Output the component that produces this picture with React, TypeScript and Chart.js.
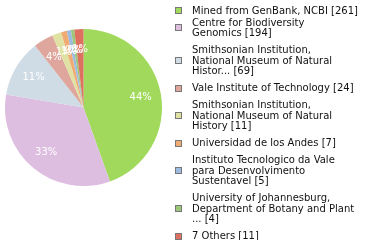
import React, { useEffect, useRef } from "react";
import { Chart, registerables } from "chart.js";

Chart.register(...registerables);

const categories: string[] = [
  "Mined from GenBank, NCBI [261]",
  "Centre for Biodiversity\nGenomics [194]",
  "Smithsonian Institution,\nNational Museum of Natural\nHistor... [69]",
  "Vale Institute of Technology [24]",
  "Smithsonian Institution,\nNational Museum of Natural\nHistory [11]",
  "Universidad de los Andes [7]",
  "Instituto Tecnologico da Vale\npara Desenvolvimento\nSustentavel [5]",
  "University of Johannesburg,\nDepartment of Botany and Plant\n... [4]",
  "7 Others [11]",
];

const counts: number[] = [261, 194, 69, 24, 11, 7, 5, 4, 11];

const colors: string[] = [
  "#a0d95b",
  "#ddbde0",
  "#cfdbe5",
  "#dfa69d",
  "#dfe2a2",
  "#f0ab72",
  "#9dbbe0",
  "#9cc67a",
  "#dd705f",
];

const FONT = '10px "DejaVu Sans"';

const pieLabelPlugin = {
  id: "pieLabels",
  afterDatasetsDraw(chart: any) {
    const ctx = chart.ctx;
    const meta = chart.getDatasetMeta(0);
    const data = chart.data.datasets[0].data as number[];
    const total = data.reduce((a, b) => a + b, 0);
    ctx.save();
    ctx.font = FONT;
    ctx.fillStyle = "#ffffff";
    ctx.textAlign = "center";
    ctx.textBaseline = "middle";
    meta.data.forEach((arc: any, i: number) => {
      const p = arc.getProps(["x", "y", "startAngle", "endAngle", "outerRadius"], true);
      const mid = (p.startAngle + p.endAngle) / 2;
      const r = p.outerRadius * 0.74;
      const pct = Math.floor((data[i] / total) * 100);
      ctx.fillText(pct + "%", p.x + Math.cos(mid) * r, p.y + Math.sin(mid) * r);
    });
    ctx.restore();
  },
};

const legendPlugin = {
  id: "sideLegend",
  afterDraw(chart: any) {
    const ctx = chart.ctx;
    const labels = chart.data.labels as string[];
    const bg = chart.data.datasets[0].backgroundColor as string[];
    const lineH = 10.5;
    const boxX = 175;
    const boxS = 6;
    const textX = 192;
    let y = 11;
    ctx.save();
    ctx.font = FONT;
    ctx.textBaseline = "middle";
    ctx.textAlign = "left";
    labels.forEach((lab, i) => {
      const lines = lab.split("\n");
      ctx.fillStyle = "#111111";
      lines.forEach((ln, k) => ctx.fillText(ln, textX, y + k * lineH));
      const last = y + (lines.length - 1) * lineH;
      const cy = Math.round((y + last) / 2);
      ctx.fillStyle = bg[i];
      ctx.fillRect(boxX + 0.5, cy - 3.5, boxS, boxS);
      ctx.strokeStyle = "#777777";
      ctx.lineWidth = 1;
      ctx.strokeRect(boxX + 0.5, cy - 3.5, boxS, boxS);
      y = last + (i === 0 ? 12 : 17);
    });
    ctx.restore();
  },
};

export default function App() {
  const ref = useRef<HTMLCanvasElement>(null);
  useEffect(() => {
    document.body.style.margin = "0";
    const chart = new Chart(ref.current!, {
      type: "pie",
      data: {
        labels: categories,
        datasets: [
          {
            data: counts,
            backgroundColor: colors,
            borderWidth: 0,
          },
        ],
      },
      options: {
        responsive: false,
        animation: false,
        layout: { padding: { left: 5, top: 29, right: 218, bottom: 54 } },
        plugins: {
          legend: { display: false },
          tooltip: { enabled: false },
        },
      },
      plugins: [pieLabelPlugin, legendPlugin],
    });
    return () => chart.destroy();
  }, []);
  return (
    <div style={{ position: "absolute", left: 0, top: 0, width: 380, height: 240, background: "#fff" }}>
      <canvas ref={ref} width={380} height={240} />
    </div>
  );
}
